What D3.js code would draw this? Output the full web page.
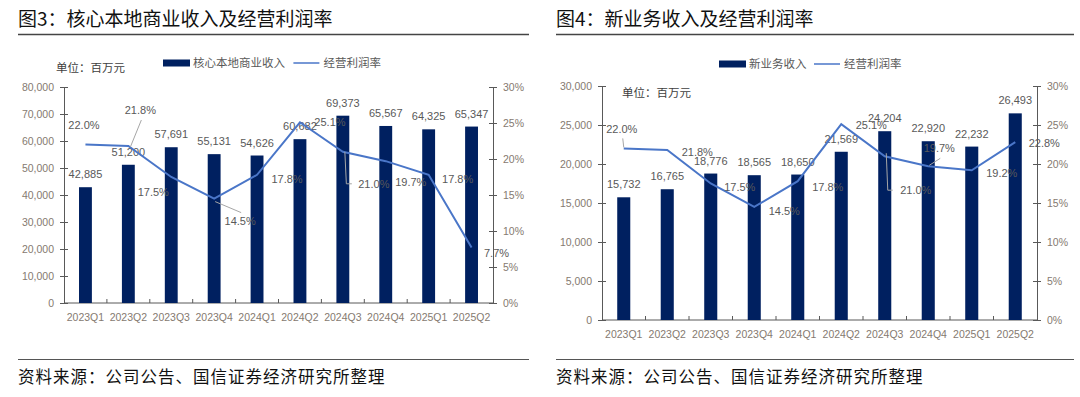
<!DOCTYPE html>
<html>
<head>
<meta charset="utf-8">
<script src="https://cdn.jsdelivr.net/npm/d3@7"></script>
<style>
  body { margin: 0; background: #fff; }
  svg text { font-family: "Liberation Sans", Arial, sans-serif; }
  .cjk { font-family: "Noto Sans CJK SC", sans-serif; }
  .tick text { fill: #857a70; font-size: 10.5px; }
  .domain, .tick line { stroke: #595959; }
</style>
</head>
<body>
<div id="chart"></div>
<script>
// quarters and series
var quarters = ["2023Q1", "2023Q2", "2023Q3", "2023Q4", "2024Q1", "2024Q2", "2024Q3", "2024Q4", "2025Q1", "2025Q2"];
var coreRevenue = [42885, 51200, 57691, 55131, 54626, 60682, 69373, 65567, 64325, 65347];
var coreMargin = [22.0, 21.8, 17.5, 14.5, 17.8, 25.1, 21.0, 19.7, 17.8, 7.7];
var newRevenue = [15732, 16765, 18776, 18565, 18650, 21569, 24204, 22920, 22232, 26493];
var newMargin = [22.0, 21.8, 17.5, 14.5, 17.8, 25.1, 21.0, 19.7, 19.2, 22.8];

// tick labels
var coreRevTicks = [0, 10000, 20000, 30000, 40000, 50000, 60000, 70000, 80000];
var newRevTicks = [0, 5000, 10000, 15000, 20000, 25000, 30000];
var marginTicks = [0, 5, 10, 15, 20, 25, 30];

// where excel put the % labels (offset from the point) and leader lines
var coreLabelPos = [[-1.5, -19], [12, -36], [-18, 15], [26, 23], [30, 4], [30, 0], [31, 32], [25, 21], [29, 4], [25, 6]];
var coreLeaders = { 1: [[2, 1], [13, -26]], 3: [[1, 3], [27, 14]], 6: [[2, 0], [3.5, 32], [9, 32]] };
var newLabelPos = [[-2, -19], [30, 2], [29, 4], [30, 4], [30, 6], [30, 1], [31, 34], [11, -18], [30, 3], [29, 1]];
var newLeaders = { 0: [[-1, -10], [0, -1]], 6: [[1.5, -3], [3, 34], [8, 34]], 7: [[1, -1], [12, -8]] };

var W = 1080, H = 397;
var barColor = "#002060", lineColor = "#4a76c8";

var svg = d3.select("#chart").append("svg")
    .attr("width", W)
    .attr("height", H);

function drawPanel(p) {
    var g = svg.append("g");

    // title + rules
    g.append("text").attr("class", "cjk")
        .attr("x", p.x0).attr("y", 26)
        .attr("font-size", 19).attr("fill", "#111")
        .text(p.title);
    g.append("line")
        .attr("x1", p.x0).attr("x2", p.x1).attr("y1", 34.5).attr("y2", 34.5)
        .attr("stroke", "#444").attr("stroke-width", 1.5);
    g.append("line")
        .attr("x1", p.x0).attr("x2", p.x1).attr("y1", 359.5).attr("y2", 359.5)
        .attr("stroke", "#555").attr("stroke-width", 1.2);
    g.append("text").attr("class", "cjk")
        .attr("x", p.x0).attr("y", 383)
        .attr("font-size", 16.5).attr("letter-spacing", 1.0).attr("fill", "#111")
        .text("资料来源：公司公告、国信证券经济研究所整理");

    var x = d3.scaleBand().domain(quarters)
        .range([p.left, p.right])
        .paddingInner(0.7).paddingOuter(0.35);
    var y = d3.scaleLinear().domain([0, p.revMax]).range([p.bottom, p.top]);
    var y2 = d3.scaleLinear().domain([0, 30]).range([p.bottom, p.top]);
    var cx = function(i) { return x(quarters[i]) + x.bandwidth() / 2; };

    // axes
    var ax = g.append("g").attr("transform", "translate(" + p.left + ",0)")
        .call(d3.axisLeft(y).tickValues(p.revTicks).tickFormat(d3.format(","))
            .tickSizeInner(4).tickSizeOuter(0).tickPadding(6));
    ax.selectAll(".tick line").attr("x1", 4);
    var ax2 = g.append("g").attr("transform", "translate(" + p.right + ",0)")
        .call(d3.axisRight(y2).tickValues(marginTicks).tickFormat(function(d) { return d + "%"; })
            .tickSizeInner(4).tickSizeOuter(0).tickPadding(6));
    ax2.selectAll(".tick line").attr("x1", -4);
    var axb = g.append("g").attr("transform", "translate(0," + p.bottom + ")")
        .call(d3.axisBottom(x).tickSize(0).tickPadding(11));
    axb.select(".domain").attr("d", "M" + p.left + ",0H" + p.right);
    axb.selectAll(".tick text").attr("font-size", 11);
    g.selectAll(".btick").data(d3.range(1, quarters.length)).enter()
        .append("line")
        .attr("x1", function(d) { return p.left + x.step() * d; })
        .attr("x2", function(d) { return p.left + x.step() * d; })
        .attr("y1", p.bottom).attr("y2", p.bottom - 4)
        .attr("stroke", "#595959");

    // bars
    g.selectAll(".bar").data(p.rev).enter()
        .append("rect")
        .attr("x", function(d, i) { return x(quarters[i]); })
        .attr("y", function(d) { return y(d); })
        .attr("width", x.bandwidth())
        .attr("height", function(d) { return p.bottom - y(d); })
        .attr("fill", barColor);

    g.selectAll(".barlbl").data(p.rev).enter()
        .append("text")
        .attr("x", function(d, i) { return cx(i); })
        .attr("y", function(d) { return y(d) - 9; })
        .attr("text-anchor", "middle")
        .attr("font-size", 11).attr("fill", "#595959")
        .text(d3.format(","));

    // margin line
    var line = d3.line()
        .x(function(d, i) { return cx(i); })
        .y(function(d) { return y2(d); });
    g.append("path").datum(p.margin)
        .attr("d", line)
        .attr("fill", "none")
        .attr("stroke", lineColor)
        .attr("stroke-width", 2);

    // leader lines
    Object.keys(p.leaders).forEach(function(k) {
        var i = +k;
        var pts = p.leaders[k].map(function(o) { return [cx(i) + o[0], y2(p.margin[i]) + o[1]]; });
        g.append("path")
            .attr("d", d3.line()(pts))
            .attr("fill", "none")
            .attr("stroke", "#a6a6a6")
            .attr("stroke-width", 1);
    });

    g.selectAll(".mlbl").data(p.margin).enter()
        .append("text")
        .attr("x", function(d, i) { return cx(i) + p.labelPos[i][0]; })
        .attr("y", function(d, i) { return y2(d) + p.labelPos[i][1]; })
        .attr("dy", "0.35em")
        .attr("text-anchor", "middle")
        .attr("font-size", 11).attr("fill", "#595959")
        .text(function(d) { return d.toFixed(1) + "%"; });

    // legend
    var lg = g.append("g").attr("class", "cjk");
    lg.append("rect").attr("x", p.legX).attr("y", p.legY - 3.5)
        .attr("width", 27).attr("height", 7).attr("fill", barColor);
    lg.append("text").attr("class", "cjk")
        .attr("x", p.legX + 30).attr("y", p.legY).attr("dy", "0.35em")
        .attr("font-size", 11.5).attr("fill", "#595959")
        .text(p.revName);
    var lx = p.legX + 30 + p.revName.length * 11.8 + 6;
    lg.append("line").attr("x1", lx).attr("x2", lx + 26)
        .attr("y1", p.legY).attr("y2", p.legY)
        .attr("stroke", lineColor).attr("stroke-width", 1.5);
    lg.append("text").attr("class", "cjk")
        .attr("x", lx + 30).attr("y", p.legY).attr("dy", "0.35em")
        .attr("font-size", 11.5).attr("fill", "#595959")
        .text("经营利润率");

    g.append("text").attr("class", "cjk")
        .attr("x", p.unitX).attr("y", p.unitY).attr("dy", "0.35em")
        .attr("font-size", 11.5).attr("fill", "#404040")
        .text("单位：百万元");
}

drawPanel({
    title: "图3：核心本地商业收入及经营利润率",
    x0: 18, x1: 529,
    left: 64, right: 493, top: 87, bottom: 303,
    revMax: 80000, revTicks: coreRevTicks,
    rev: coreRevenue, margin: coreMargin,
    labelPos: coreLabelPos, leaders: coreLeaders,
    revName: "核心本地商业收入",
    legX: 163, legY: 63,
    unitX: 56, unitY: 68
});

drawPanel({
    title: "图4：新业务收入及经营利润率",
    x0: 556, x1: 1074,
    left: 602, right: 1037, top: 86, bottom: 320,
    revMax: 30000, revTicks: newRevTicks,
    rev: newRevenue, margin: newMargin,
    labelPos: newLabelPos, leaders: newLeaders,
    revName: "新业务收入",
    legX: 719, legY: 64,
    unitX: 622, unitY: 93
});
</script>
</body>
</html>
